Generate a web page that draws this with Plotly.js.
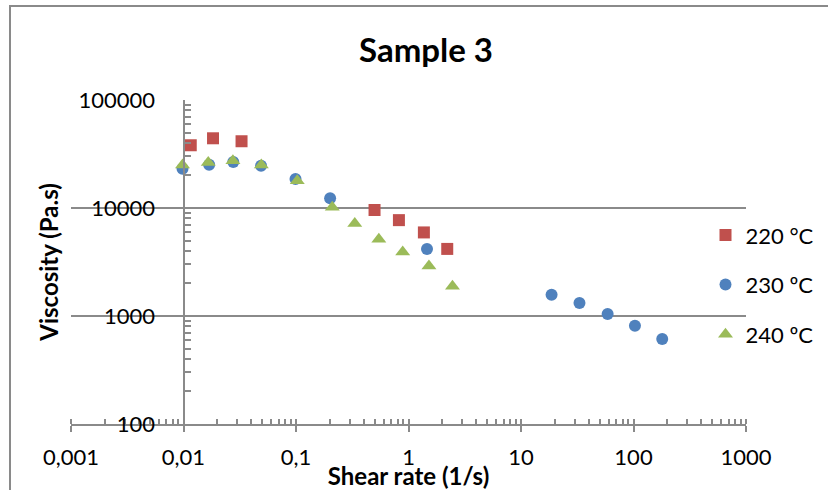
<!DOCTYPE html>
<html>
<head>
<meta charset="utf-8">
<script src="https://cdn.plot.ly/plotly-3.0.1.min.js"></script>
<style>
  html, body { margin: 0; padding: 0; background: #ffffff; overflow: hidden; }
  #chart { width: 828px; height: 490px; position: absolute; left: 0; top: 0; }
  #frame { position: absolute; left: 9px; top: 5px; width: 900px; height: 600px;
           border-left: 2px solid #8a8a8a; border-top: 2px solid #8a8a8a; pointer-events: none; }
</style>
</head>
<body>
<div id="chart"></div>
<div id="frame"></div>
<script>
// ---- data ----
const seriesNames = ["220 °C", "230 ºC", "240 ºC"];

const shear220 = [0.0116, 0.0183, 0.0328, 0.499, 0.822, 1.37, 2.21];
const visc220  = [38100, 44200, 41500, 9580, 7720, 5940, 4180];

const shear230 = [0.0098, 0.0169, 0.0277, 0.0489, 0.099, 0.201, 1.46, 18.7, 33.1, 58.9, 103, 180];
const visc230  = [23100, 25200, 26700, 24600, 18600, 12300, 4180, 1570, 1320, 1045, 812, 611];

const shear240 = [0.0098, 0.0166, 0.0275, 0.0492, 0.1026, 0.210, 0.333, 0.545, 0.888, 1.52, 2.46];
const visc240  = [25000, 26400, 27400, 25000, 17850, 10150, 7200, 5140, 3920, 2900, 1890];

const xTickVals  = [0.001, 0.01, 0.1, 1, 10, 100, 1000];
const xTickText  = ["0,001", "0,01", "0,1", "1", "10", "100", "1000"];
const yTickVals  = [100, 1000, 10000, 100000];
const yTickText  = ["100", "1000", "10000", "100000"];

const chartTitle = "Sample 3";
const xTitle = "Shear rate (1/s)";
const yTitle = "Viscosity (Pa.s)";

// ---- styling ----
const FONT = "Lato, 'Open Sans', sans-serif";
const AX = "#8a8a8a";
const colors = ["#C0504D", "#4F81BD", "#9BBB59"];
const symbols = ["square", "circle", "triangle-up"];
const sizes = [12, 12, 13];

const xs = [shear220, shear230, shear240];
const ys = [visc220, visc230, visc240];

const traces = seriesNames.map((n, i) => ({
  type: "scatter",
  mode: "markers",
  name: n,
  legendgroup: "g" + i,
  x: xs[i],
  y: ys[i],
  marker: { symbol: symbols[i], color: colors[i], size: sizes[i], line: { width: 0 } },
  hoverinfo: "x+y+name"
}));

const layout = {
  width: 828,
  height: 490,
  paper_bgcolor: "rgba(0,0,0,0)",
  plot_bgcolor: "rgba(0,0,0,0)",
  margin: { l: 71, r: 82, t: 100, b: 66, autoexpand: false },
  font: { family: FONT, size: 22, color: "#000000" },
  title: {
    text: "<b>" + chartTitle + "</b>",
    font: { family: FONT, size: 33, color: "#000000" },
    x: 426 / 828, xref: "container", xanchor: "center",
    y: 1 - 50 / 490, yref: "container", yanchor: "middle"
  },
  showlegend: true,
  legend: {
    x: 0.94, xanchor: "left",
    y: 0.43, yanchor: "middle",
    font: { family: FONT, size: 22, color: "#000000" },
    tracegroupgap: 18,
    bgcolor: "rgba(0,0,0,0)",
    itemclick: false
  },
  xaxis: {
    type: "log",
    range: [-3, 3],
    domain: [0, 1],
    anchor: "y",
    automargin: false,
    tickmode: "array",
    tickvals: xTickVals,
    ticktext: xTickText,
    ticks: "outside",
    ticklen: 6,
    tickwidth: 2,
    tickcolor: AX,
    ticklabelstandoff: 7,
    showgrid: false,
    zeroline: false,
    showline: true,
    linecolor: AX,
    linewidth: 2,
    minor: { ticks: "inside", ticklen: 5, tickwidth: 2, tickcolor: AX, dtick: "D1", showgrid: false },
    tickfont: { family: FONT, size: 22, color: "#000000" },
    title: { text: "<b>" + xTitle + "</b>", font: { family: FONT, size: 24, color: "#000000" }, standoff: 4 }
  },
  xaxis2: {
    type: "log",
    range: [-3, 3],
    overlaying: "x",
    anchor: "y",
    side: "bottom",
    tickmode: "array",
    tickvals: xTickVals,
    ticks: "inside",
    ticklen: 6,
    tickwidth: 2,
    tickcolor: AX,
    showticklabels: false,
    showgrid: false,
    zeroline: false,
    showline: false
  },
  yaxis: {
    type: "log",
    range: [2, 5],
    anchor: "free",
    position: 1 / 6,
    automargin: false,
    tickmode: "array",
    tickvals: yTickVals,
    ticktext: yTickText,
    ticks: "inside",
    ticklen: 6,
    tickwidth: 2,
    tickcolor: AX,
    ticklabelstandoff: 23,
    showgrid: true,
    gridcolor: AX,
    gridwidth: 2,
    zeroline: false,
    showline: true,
    linecolor: AX,
    linewidth: 2,
    minor: { ticks: "inside", ticklen: 6, tickwidth: 2, tickcolor: AX, dtick: "D1", showgrid: false },
    tickfont: { family: FONT, size: 22, color: "#000000" },
    title: { text: "<b>" + yTitle + "</b>", font: { family: FONT, size: 24, color: "#000000" }, standoff: 12 }
  }
};

Plotly.newPlot("chart", traces, layout, { staticPlot: true, displayModeBar: false });
</script>
</body>
</html>
